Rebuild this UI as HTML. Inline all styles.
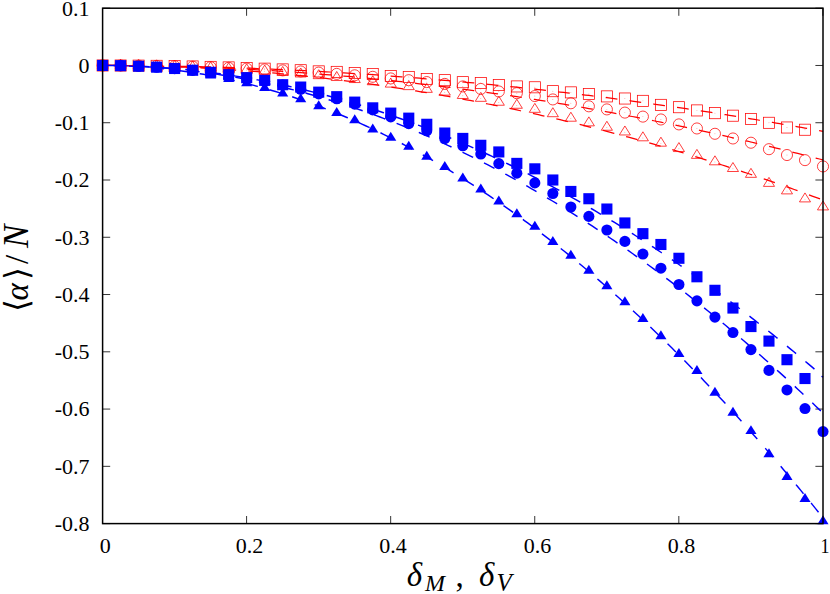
<!DOCTYPE html>
<html><head><meta charset="utf-8"><title>plot</title>
<style>
html,body{margin:0;padding:0;background:#fff;}
body{width:830px;height:594px;overflow:hidden;font-family:"Liberation Serif",serif;}
svg{display:block;}
.t{font-family:"Liberation Serif",serif;font-size:22px;fill:#000;}
.i{font-family:"Liberation Serif",serif;font-style:italic;fill:#000;}
.o{fill:none;stroke:#ff0000;stroke-width:0.75;}
.d{fill:#ff0000;fill-opacity:0.55;}
.k{stroke:#000;stroke-width:0.8;}
</style></head><body>
<svg width="830" height="594" viewBox="0 0 830 594">
<rect width="830" height="594" fill="#fff"/>

<g class="k">
<line x1="102.6" y1="8.20" x2="110.19999999999999" y2="8.20"/>
<line x1="823.0" y1="8.20" x2="815.4" y2="8.20"/>
<line x1="102.6" y1="65.47" x2="110.19999999999999" y2="65.47"/>
<line x1="823.0" y1="65.47" x2="815.4" y2="65.47"/>
<line x1="102.6" y1="122.73" x2="110.19999999999999" y2="122.73"/>
<line x1="823.0" y1="122.73" x2="815.4" y2="122.73"/>
<line x1="102.6" y1="180.00" x2="110.19999999999999" y2="180.00"/>
<line x1="823.0" y1="180.00" x2="815.4" y2="180.00"/>
<line x1="102.6" y1="237.27" x2="110.19999999999999" y2="237.27"/>
<line x1="823.0" y1="237.27" x2="815.4" y2="237.27"/>
<line x1="102.6" y1="294.53" x2="110.19999999999999" y2="294.53"/>
<line x1="823.0" y1="294.53" x2="815.4" y2="294.53"/>
<line x1="102.6" y1="351.80" x2="110.19999999999999" y2="351.80"/>
<line x1="823.0" y1="351.80" x2="815.4" y2="351.80"/>
<line x1="102.6" y1="409.07" x2="110.19999999999999" y2="409.07"/>
<line x1="823.0" y1="409.07" x2="815.4" y2="409.07"/>
<line x1="102.6" y1="466.33" x2="110.19999999999999" y2="466.33"/>
<line x1="823.0" y1="466.33" x2="815.4" y2="466.33"/>
<line x1="102.6" y1="523.60" x2="110.19999999999999" y2="523.60"/>
<line x1="823.0" y1="523.60" x2="815.4" y2="523.60"/>
<line x1="102.50" y1="523.6" x2="102.50" y2="516.0"/>
<line x1="102.50" y1="8.2" x2="102.50" y2="15.799999999999999"/>
<line x1="246.58" y1="523.6" x2="246.58" y2="516.0"/>
<line x1="246.58" y1="8.2" x2="246.58" y2="15.799999999999999"/>
<line x1="390.66" y1="523.6" x2="390.66" y2="516.0"/>
<line x1="390.66" y1="8.2" x2="390.66" y2="15.799999999999999"/>
<line x1="534.74" y1="523.6" x2="534.74" y2="516.0"/>
<line x1="534.74" y1="8.2" x2="534.74" y2="15.799999999999999"/>
<line x1="678.82" y1="523.6" x2="678.82" y2="516.0"/>
<line x1="678.82" y1="8.2" x2="678.82" y2="15.799999999999999"/>
<line x1="822.90" y1="523.6" x2="822.90" y2="516.0"/>
<line x1="822.90" y1="8.2" x2="822.90" y2="15.799999999999999"/>
</g>
<g id="ylabels">
<text class="t" x="89.5" y="15.50" text-anchor="end">0.1</text>
<text class="t" x="89.5" y="72.77" text-anchor="end">0</text>
<text class="t" x="89.5" y="130.03" text-anchor="end">-0.1</text>
<text class="t" x="89.5" y="187.30" text-anchor="end">-0.2</text>
<text class="t" x="89.5" y="244.57" text-anchor="end">-0.3</text>
<text class="t" x="89.5" y="301.83" text-anchor="end">-0.4</text>
<text class="t" x="89.5" y="359.10" text-anchor="end">-0.5</text>
<text class="t" x="89.5" y="416.37" text-anchor="end">-0.6</text>
<text class="t" x="89.5" y="473.63" text-anchor="end">-0.7</text>
<text class="t" x="89.5" y="530.90" text-anchor="end">-0.8</text>
</g>
<g id="xlabels">
<text class="t" x="105.3" y="552.60" text-anchor="middle">0</text>
<text class="t" x="249.5" y="552.60" text-anchor="middle">0.2</text>
<text class="t" x="393.1" y="552.60" text-anchor="middle">0.4</text>
<text class="t" x="537.4" y="552.60" text-anchor="middle">0.6</text>
<text class="t" x="681.5" y="552.60" text-anchor="middle">0.8</text>
<text class="t" x="820.5" y="552.60" textLength="9" lengthAdjust="spacingAndGlyphs">1</text>
</g>
<g id="xl" fill="#000">
<text class="i" x="406.67" y="586.21" font-size="33">δ</text>
<text class="i" x="424.99" y="590.65" font-size="24">M</text>
<text class="t" x="455.5" y="586.9" font-size="33" style="font-size:33px">,</text>
<text class="i" x="478.97" y="586.21" font-size="33">δ</text>
<text class="i" x="496.5" y="590.56" font-size="25">V</text>
</g>
<g id="yl" transform="translate(27.5,312) rotate(-90)" fill="#000">
<text x="0" y="0" font-size="33" style="font-family:'Liberation Serif','DejaVu Serif','DejaVu Sans',serif;">⟨</text>
<text class="i" x="11.5" y="0" font-size="33">α</text>
<text x="32" y="0" font-size="33" style="font-family:'Liberation Serif','DejaVu Serif','DejaVu Sans',serif;">⟩</text>
<text x="48" y="0" font-size="33" style="font-family:'Liberation Serif',serif;">/</text>
<text class="i" x="64" y="0" font-size="35">N</text>
</g>
<g id="red">
<path d="M102.60,65.47 L106.20,65.47 L109.80,65.47 L113.41,65.48 L117.01,65.49 L120.61,65.51 L124.21,65.53 L127.81,65.55 L131.42,65.57 L135.02,65.60 L138.62,65.63 L142.22,65.67 L145.82,65.70 L149.43,65.74 L153.03,65.79 L156.63,65.84 L160.23,65.89 L163.83,65.94 L167.44,66.00 L171.04,66.06 L174.64,66.13 L178.24,66.19 L181.84,66.26 L185.45,66.34 L189.05,66.42 L192.65,66.50 L196.25,66.58 L199.85,66.67 L203.46,66.76 L207.06,66.85 L210.66,66.95 L214.26,67.05 L217.86,67.15 L221.47,67.26 L225.07,67.37 L228.67,67.48 L232.27,67.60 L235.87,67.72 L239.48,67.84 L243.08,67.97 L246.68,68.10 L250.28,68.23 L253.88,68.37 L257.49,68.51 L261.09,68.65 L264.69,68.80 L268.29,68.95 L271.89,69.10 L275.50,69.26 L279.10,69.42 L282.70,69.58 L286.30,69.75 L289.90,69.92 L293.51,70.09 L297.11,70.27 L300.71,70.45 L304.31,70.63 L307.91,70.82 L311.52,71.01 L315.12,71.20 L318.72,71.39 L322.32,71.59 L325.92,71.80 L329.53,72.00 L333.13,72.21 L336.73,72.42 L340.33,72.64 L343.93,72.86 L347.54,73.08 L351.14,73.31 L354.74,73.53 L358.34,73.77 L361.94,74.00 L365.55,74.24 L369.15,74.48 L372.75,74.73 L376.35,74.98 L379.95,75.23 L383.56,75.48 L387.16,75.74 L390.76,76.00 L394.36,76.27 L397.96,76.54 L401.57,76.81 L405.17,77.08 L408.77,77.36 L412.37,77.64 L415.97,77.93 L419.58,78.22 L423.18,78.51 L426.78,78.80 L430.38,79.10 L433.98,79.40 L437.59,79.71 L441.19,80.01 L444.79,80.33 L448.39,80.64 L451.99,80.96 L455.60,81.28 L459.20,81.60 L462.80,81.93 L466.40,82.26 L470.00,82.60 L473.61,82.93 L477.21,83.27 L480.81,83.62 L484.41,83.97 L488.01,84.32 L491.62,84.67 L495.22,85.03 L498.82,85.39 L502.42,85.75 L506.02,86.12 L509.63,86.49 L513.23,86.86 L516.83,87.24 L520.43,87.62 L524.03,88.00 L527.64,88.39 L531.24,88.78 L534.84,89.18 L538.44,89.57 L542.04,89.97 L545.65,90.38 L549.25,90.78 L552.85,91.19 L556.45,91.61 L560.05,92.02 L563.66,92.44 L567.26,92.86 L570.86,93.29 L574.46,93.72 L578.06,94.15 L581.67,94.59 L585.27,95.03 L588.87,95.47 L592.47,95.92 L596.07,96.37 L599.68,96.82 L603.28,97.28 L606.88,97.74 L610.48,98.20 L614.08,98.67 L617.69,99.13 L621.29,99.61 L624.89,100.08 L628.49,100.56 L632.09,101.04 L635.70,101.53 L639.30,102.02 L642.90,102.51 L646.50,103.01 L650.10,103.51 L653.71,104.01 L657.31,104.51 L660.91,105.02 L664.51,105.53 L668.11,106.05 L671.72,106.57 L675.32,107.09 L678.92,107.61 L682.52,108.14 L686.12,108.68 L689.73,109.21 L693.33,109.75 L696.93,110.29 L700.53,110.84 L704.13,111.38 L707.74,111.94 L711.34,112.49 L714.94,113.05 L718.54,113.61 L722.14,114.17 L725.75,114.74 L729.35,115.31 L732.95,115.89 L736.55,116.47 L740.15,117.05 L743.76,117.63 L747.36,118.22 L750.96,118.81 L754.56,119.40 L758.16,120.00 L761.77,120.60 L765.37,121.21 L768.97,121.82 L772.57,122.43 L776.17,123.04 L779.78,123.66 L783.38,124.28 L786.98,124.90 L790.58,125.53 L794.18,126.16 L797.79,126.79 L801.39,127.43 L804.99,128.07 L808.59,128.72 L812.19,129.36 L815.80,130.01 L819.40,130.67 L823.00,131.32" fill="none" stroke="#ff0000" stroke-width="1.25" stroke-dasharray="11.8 12.20" stroke-dashoffset="23.55"/>
<rect x="97.05" y="59.92" width="11.10" height="11.10" class="o"/><circle cx="102.60" cy="65.47" r="0.45" class="d"/><rect x="115.06" y="59.96" width="11.10" height="11.10" class="o"/><circle cx="120.61" cy="65.51" r="0.45" class="d"/><rect x="133.07" y="60.07" width="11.10" height="11.10" class="o"/><circle cx="138.62" cy="65.62" r="0.45" class="d"/><rect x="151.08" y="60.27" width="11.10" height="11.10" class="o"/><circle cx="156.63" cy="65.82" r="0.45" class="d"/><rect x="169.09" y="60.55" width="11.10" height="11.10" class="o"/><circle cx="174.64" cy="66.10" r="0.45" class="d"/><rect x="187.10" y="60.90" width="11.10" height="11.10" class="o"/><circle cx="192.65" cy="66.45" r="0.45" class="d"/><rect x="205.11" y="61.33" width="11.10" height="11.10" class="o"/><circle cx="210.66" cy="66.88" r="0.45" class="d"/><rect x="223.12" y="61.85" width="11.10" height="11.10" class="o"/><circle cx="228.67" cy="67.40" r="0.45" class="d"/><rect x="241.13" y="62.44" width="11.10" height="11.10" class="o"/><circle cx="246.68" cy="67.99" r="0.45" class="d"/><rect x="259.14" y="63.11" width="11.10" height="11.10" class="o"/><circle cx="264.69" cy="68.66" r="0.45" class="d"/><rect x="277.15" y="63.85" width="11.10" height="11.10" class="o"/><circle cx="282.70" cy="69.40" r="0.45" class="d"/><rect x="295.16" y="64.68" width="11.10" height="11.10" class="o"/><circle cx="300.71" cy="70.23" r="0.45" class="d"/><rect x="313.17" y="65.82" width="11.10" height="11.10" class="o"/><circle cx="318.72" cy="71.37" r="0.45" class="d"/><rect x="331.18" y="66.33" width="11.10" height="11.10" class="o"/><circle cx="336.73" cy="71.88" r="0.45" class="d"/><rect x="349.19" y="67.53" width="11.10" height="11.10" class="o"/><circle cx="354.74" cy="73.08" r="0.45" class="d"/><rect x="367.20" y="68.51" width="11.10" height="11.10" class="o"/><circle cx="372.75" cy="74.06" r="0.45" class="d"/><rect x="385.21" y="70.51" width="11.10" height="11.10" class="o"/><circle cx="390.76" cy="76.06" r="0.45" class="d"/><rect x="403.22" y="71.37" width="11.10" height="11.10" class="o"/><circle cx="408.77" cy="76.92" r="0.45" class="d"/><rect x="421.23" y="73.43" width="11.10" height="11.10" class="o"/><circle cx="426.78" cy="78.98" r="0.45" class="d"/><rect x="439.24" y="74.63" width="11.10" height="11.10" class="o"/><circle cx="444.79" cy="80.18" r="0.45" class="d"/><rect x="457.25" y="76.64" width="11.10" height="11.10" class="o"/><circle cx="462.80" cy="82.19" r="0.45" class="d"/><rect x="475.26" y="77.50" width="11.10" height="11.10" class="o"/><circle cx="480.81" cy="83.05" r="0.45" class="d"/><rect x="493.27" y="79.50" width="11.10" height="11.10" class="o"/><circle cx="498.82" cy="85.05" r="0.45" class="d"/><rect x="511.28" y="80.88" width="11.10" height="11.10" class="o"/><circle cx="516.83" cy="86.43" r="0.45" class="d"/><rect x="529.29" y="81.74" width="11.10" height="11.10" class="o"/><circle cx="534.84" cy="87.29" r="0.45" class="d"/><rect x="547.30" y="85.63" width="11.10" height="11.10" class="o"/><circle cx="552.85" cy="91.18" r="0.45" class="d"/><rect x="565.31" y="86.83" width="11.10" height="11.10" class="o"/><circle cx="570.86" cy="92.38" r="0.45" class="d"/><rect x="583.32" y="88.44" width="11.10" height="11.10" class="o"/><circle cx="588.87" cy="93.99" r="0.45" class="d"/><rect x="601.33" y="90.84" width="11.10" height="11.10" class="o"/><circle cx="606.88" cy="96.39" r="0.45" class="d"/><rect x="619.34" y="92.96" width="11.10" height="11.10" class="o"/><circle cx="624.89" cy="98.51" r="0.45" class="d"/><rect x="637.35" y="95.31" width="11.10" height="11.10" class="o"/><circle cx="642.90" cy="100.86" r="0.45" class="d"/><rect x="655.36" y="99.32" width="11.10" height="11.10" class="o"/><circle cx="660.91" cy="104.87" r="0.45" class="d"/><rect x="673.37" y="101.66" width="11.10" height="11.10" class="o"/><circle cx="678.92" cy="107.21" r="0.45" class="d"/><rect x="691.38" y="104.87" width="11.10" height="11.10" class="o"/><circle cx="696.93" cy="110.42" r="0.45" class="d"/><rect x="709.39" y="107.62" width="11.10" height="11.10" class="o"/><circle cx="714.94" cy="113.17" r="0.45" class="d"/><rect x="727.40" y="110.14" width="11.10" height="11.10" class="o"/><circle cx="732.95" cy="115.69" r="0.45" class="d"/><rect x="745.41" y="113.52" width="11.10" height="11.10" class="o"/><circle cx="750.96" cy="119.07" r="0.45" class="d"/><rect x="763.42" y="117.24" width="11.10" height="11.10" class="o"/><circle cx="768.97" cy="122.79" r="0.45" class="d"/><rect x="781.43" y="121.94" width="11.10" height="11.10" class="o"/><circle cx="786.98" cy="127.49" r="0.45" class="d"/><rect x="799.44" y="124.17" width="11.10" height="11.10" class="o"/><circle cx="804.99" cy="129.72" r="0.45" class="d"/>
<path d="M102.60,65.47 L106.20,65.47 L109.80,65.48 L113.41,65.49 L117.01,65.50 L120.61,65.53 L124.21,65.55 L127.81,65.58 L131.42,65.62 L135.02,65.66 L138.62,65.70 L142.22,65.75 L145.82,65.81 L149.43,65.87 L153.03,65.93 L156.63,66.00 L160.23,66.07 L163.83,66.15 L167.44,66.23 L171.04,66.32 L174.64,66.41 L178.24,66.51 L181.84,66.61 L185.45,66.72 L189.05,66.83 L192.65,66.94 L196.25,67.06 L199.85,67.19 L203.46,67.32 L207.06,67.45 L210.66,67.59 L214.26,67.74 L217.86,67.89 L221.47,68.04 L225.07,68.20 L228.67,68.36 L232.27,68.53 L235.87,68.70 L239.48,68.88 L243.08,69.06 L246.68,69.25 L250.28,69.44 L253.88,69.63 L257.49,69.83 L261.09,70.04 L264.69,70.25 L268.29,70.47 L271.89,70.68 L275.50,70.91 L279.10,71.14 L282.70,71.37 L286.30,71.61 L289.90,71.85 L293.51,72.10 L297.11,72.35 L300.71,72.61 L304.31,72.87 L307.91,73.14 L311.52,73.41 L315.12,73.69 L318.72,73.97 L322.32,74.26 L325.92,74.55 L329.53,74.84 L333.13,75.14 L336.73,75.45 L340.33,75.76 L343.93,76.07 L347.54,76.39 L351.14,76.71 L354.74,77.04 L358.34,77.37 L361.94,77.71 L365.55,78.06 L369.15,78.40 L372.75,78.75 L376.35,79.11 L379.95,79.47 L383.56,79.84 L387.16,80.21 L390.76,80.59 L394.36,80.97 L397.96,81.35 L401.57,81.74 L405.17,82.13 L408.77,82.53 L412.37,82.94 L415.97,83.35 L419.58,83.76 L423.18,84.18 L426.78,84.60 L430.38,85.03 L433.98,85.46 L437.59,85.90 L441.19,86.34 L444.79,86.79 L448.39,87.24 L451.99,87.69 L455.60,88.15 L459.20,88.62 L462.80,89.09 L466.40,89.56 L470.00,90.04 L473.61,90.53 L477.21,91.02 L480.81,91.51 L484.41,92.01 L488.01,92.51 L491.62,93.02 L495.22,93.53 L498.82,94.05 L502.42,94.57 L506.02,95.10 L509.63,95.63 L513.23,96.17 L516.83,96.71 L520.43,97.25 L524.03,97.80 L527.64,98.36 L531.24,98.92 L534.84,99.48 L538.44,100.05 L542.04,100.63 L545.65,101.21 L549.25,101.79 L552.85,102.38 L556.45,102.97 L560.05,103.57 L563.66,104.17 L567.26,104.78 L570.86,105.39 L574.46,106.01 L578.06,106.63 L581.67,107.25 L585.27,107.88 L588.87,108.52 L592.47,109.16 L596.07,109.80 L599.68,110.45 L603.28,111.11 L606.88,111.77 L610.48,112.43 L614.08,113.10 L617.69,113.77 L621.29,114.45 L624.89,115.13 L628.49,115.82 L632.09,116.51 L635.70,117.21 L639.30,117.91 L642.90,118.62 L646.50,119.33 L650.10,120.04 L653.71,120.76 L657.31,121.49 L660.91,122.22 L664.51,122.95 L668.11,123.69 L671.72,124.44 L675.32,125.19 L678.92,125.94 L682.52,126.70 L686.12,127.46 L689.73,128.23 L693.33,129.00 L696.93,129.78 L700.53,130.56 L704.13,131.35 L707.74,132.14 L711.34,132.93 L714.94,133.74 L718.54,134.54 L722.14,135.35 L725.75,136.17 L729.35,136.99 L732.95,137.81 L736.55,138.64 L740.15,139.47 L743.76,140.31 L747.36,141.16 L750.96,142.00 L754.56,142.86 L758.16,143.71 L761.77,144.58 L765.37,145.44 L768.97,146.31 L772.57,147.19 L776.17,148.07 L779.78,148.96 L783.38,149.85 L786.98,150.74 L790.58,151.64 L794.18,152.55 L797.79,153.46 L801.39,154.37 L804.99,155.29 L808.59,156.21 L812.19,157.14 L815.80,158.08 L819.40,159.01 L823.00,159.96" fill="none" stroke="#ff0000" stroke-width="1.25" stroke-dasharray="11.8 12.20" stroke-dashoffset="23.01"/>
<circle cx="102.60" cy="65.47" r="5.55" class="o"/><circle cx="102.60" cy="65.47" r="0.45" class="d"/><circle cx="120.61" cy="65.51" r="5.55" class="o"/><circle cx="120.61" cy="65.51" r="0.45" class="d"/><circle cx="138.62" cy="65.66" r="5.55" class="o"/><circle cx="138.62" cy="65.66" r="0.45" class="d"/><circle cx="156.63" cy="65.90" r="5.55" class="o"/><circle cx="156.63" cy="65.90" r="0.45" class="d"/><circle cx="174.64" cy="66.24" r="5.55" class="o"/><circle cx="174.64" cy="66.24" r="0.45" class="d"/><circle cx="192.65" cy="66.68" r="5.55" class="o"/><circle cx="192.65" cy="66.68" r="0.45" class="d"/><circle cx="210.66" cy="67.22" r="5.55" class="o"/><circle cx="210.66" cy="67.22" r="0.45" class="d"/><circle cx="228.67" cy="67.86" r="5.55" class="o"/><circle cx="228.67" cy="67.86" r="0.45" class="d"/><circle cx="246.68" cy="68.60" r="5.55" class="o"/><circle cx="246.68" cy="68.60" r="0.45" class="d"/><circle cx="264.69" cy="69.44" r="5.55" class="o"/><circle cx="264.69" cy="69.44" r="0.45" class="d"/><circle cx="282.70" cy="70.39" r="5.55" class="o"/><circle cx="282.70" cy="70.39" r="0.45" class="d"/><circle cx="300.71" cy="71.45" r="5.55" class="o"/><circle cx="300.71" cy="71.45" r="0.45" class="d"/><circle cx="318.72" cy="72.61" r="5.55" class="o"/><circle cx="318.72" cy="72.61" r="0.45" class="d"/><circle cx="336.73" cy="73.89" r="5.55" class="o"/><circle cx="336.73" cy="73.89" r="0.45" class="d"/><circle cx="354.74" cy="75.29" r="5.55" class="o"/><circle cx="354.74" cy="75.29" r="0.45" class="d"/><circle cx="372.75" cy="76.80" r="5.55" class="o"/><circle cx="372.75" cy="76.80" r="0.45" class="d"/><circle cx="390.76" cy="78.44" r="5.55" class="o"/><circle cx="390.76" cy="78.44" r="0.45" class="d"/><circle cx="408.77" cy="80.20" r="5.55" class="o"/><circle cx="408.77" cy="80.20" r="0.45" class="d"/><circle cx="426.78" cy="82.08" r="5.55" class="o"/><circle cx="426.78" cy="82.08" r="0.45" class="d"/><circle cx="444.79" cy="83.91" r="5.55" class="o"/><circle cx="444.79" cy="83.91" r="0.45" class="d"/><circle cx="462.80" cy="86.43" r="5.55" class="o"/><circle cx="462.80" cy="86.43" r="0.45" class="d"/><circle cx="480.81" cy="88.95" r="5.55" class="o"/><circle cx="480.81" cy="88.95" r="0.45" class="d"/><circle cx="498.82" cy="91.47" r="5.55" class="o"/><circle cx="498.82" cy="91.47" r="0.45" class="d"/><circle cx="516.83" cy="93.18" r="5.55" class="o"/><circle cx="516.83" cy="93.18" r="0.45" class="d"/><circle cx="534.84" cy="96.05" r="5.55" class="o"/><circle cx="534.84" cy="96.05" r="0.45" class="d"/><circle cx="552.85" cy="99.43" r="5.55" class="o"/><circle cx="552.85" cy="99.43" r="0.45" class="d"/><circle cx="570.86" cy="103.26" r="5.55" class="o"/><circle cx="570.86" cy="103.26" r="0.45" class="d"/><circle cx="588.87" cy="106.30" r="5.55" class="o"/><circle cx="588.87" cy="106.30" r="0.45" class="d"/><circle cx="606.88" cy="109.39" r="5.55" class="o"/><circle cx="606.88" cy="109.39" r="0.45" class="d"/><circle cx="624.89" cy="112.60" r="5.55" class="o"/><circle cx="624.89" cy="112.60" r="0.45" class="d"/><circle cx="642.90" cy="116.61" r="5.55" class="o"/><circle cx="642.90" cy="116.61" r="0.45" class="d"/><circle cx="660.91" cy="119.47" r="5.55" class="o"/><circle cx="660.91" cy="119.47" r="0.45" class="d"/><circle cx="678.92" cy="124.39" r="5.55" class="o"/><circle cx="678.92" cy="124.39" r="0.45" class="d"/><circle cx="696.93" cy="128.46" r="5.55" class="o"/><circle cx="696.93" cy="128.46" r="0.45" class="d"/><circle cx="714.94" cy="133.79" r="5.55" class="o"/><circle cx="714.94" cy="133.79" r="0.45" class="d"/><circle cx="732.95" cy="138.48" r="5.55" class="o"/><circle cx="732.95" cy="138.48" r="0.45" class="d"/><circle cx="750.96" cy="142.72" r="5.55" class="o"/><circle cx="750.96" cy="142.72" r="0.45" class="d"/><circle cx="768.97" cy="149.19" r="5.55" class="o"/><circle cx="768.97" cy="149.19" r="0.45" class="d"/><circle cx="786.98" cy="155.03" r="5.55" class="o"/><circle cx="786.98" cy="155.03" r="0.45" class="d"/><circle cx="804.99" cy="160.13" r="5.55" class="o"/><circle cx="804.99" cy="160.13" r="0.45" class="d"/><circle cx="823.00" cy="166.43" r="5.55" class="o"/><circle cx="823.00" cy="166.43" r="0.45" class="d"/>
<path d="M102.60,65.47 L106.20,65.47 L109.80,65.48 L113.41,65.50 L117.01,65.52 L120.61,65.55 L124.21,65.59 L127.81,65.63 L131.42,65.68 L135.02,65.74 L138.62,65.80 L142.22,65.87 L145.82,65.95 L149.43,66.04 L153.03,66.13 L156.63,66.22 L160.23,66.33 L163.83,66.44 L167.44,66.56 L171.04,66.68 L174.64,66.81 L178.24,66.95 L181.84,67.10 L185.45,67.25 L189.05,67.40 L192.65,67.57 L196.25,67.74 L199.85,67.92 L203.46,68.10 L207.06,68.30 L210.66,68.49 L214.26,68.70 L217.86,68.91 L221.47,69.13 L225.07,69.36 L228.67,69.59 L232.27,69.83 L235.87,70.07 L239.48,70.32 L243.08,70.58 L246.68,70.85 L250.28,71.12 L253.88,71.40 L257.49,71.69 L261.09,71.98 L264.69,72.28 L268.29,72.59 L271.89,72.90 L275.50,73.22 L279.10,73.54 L282.70,73.88 L286.30,74.22 L289.90,74.56 L293.51,74.92 L297.11,75.28 L300.71,75.64 L304.31,76.02 L307.91,76.40 L311.52,76.78 L315.12,77.18 L318.72,77.58 L322.32,77.99 L325.92,78.40 L329.53,78.82 L333.13,79.25 L336.73,79.68 L340.33,80.12 L343.93,80.57 L347.54,81.02 L351.14,81.48 L354.74,81.95 L358.34,82.43 L361.94,82.91 L365.55,83.40 L369.15,83.89 L372.75,84.39 L376.35,84.90 L379.95,85.41 L383.56,85.94 L387.16,86.46 L390.76,87.00 L394.36,87.54 L397.96,88.09 L401.57,88.64 L405.17,89.21 L408.77,89.77 L412.37,90.35 L415.97,90.93 L419.58,91.52 L423.18,92.12 L426.78,92.72 L430.38,93.33 L433.98,93.94 L437.59,94.57 L441.19,95.19 L444.79,95.83 L448.39,96.47 L451.99,97.12 L455.60,97.78 L459.20,98.44 L462.80,99.11 L466.40,99.79 L470.00,100.47 L473.61,101.16 L477.21,101.86 L480.81,102.56 L484.41,103.27 L488.01,103.99 L491.62,104.71 L495.22,105.44 L498.82,106.18 L502.42,106.92 L506.02,107.67 L509.63,108.43 L513.23,109.19 L516.83,109.96 L520.43,110.74 L524.03,111.52 L527.64,112.31 L531.24,113.11 L534.84,113.91 L538.44,114.73 L542.04,115.54 L545.65,116.37 L549.25,117.20 L552.85,118.04 L556.45,118.88 L560.05,119.73 L563.66,120.59 L567.26,121.45 L570.86,122.33 L574.46,123.20 L578.06,124.09 L581.67,124.98 L585.27,125.88 L588.87,126.78 L592.47,127.69 L596.07,128.61 L599.68,129.54 L603.28,130.47 L606.88,131.41 L610.48,132.35 L614.08,133.31 L617.69,134.27 L621.29,135.23 L624.89,136.20 L628.49,137.18 L632.09,138.17 L635.70,139.16 L639.30,140.16 L642.90,141.17 L646.50,142.18 L650.10,143.20 L653.71,144.22 L657.31,145.26 L660.91,146.30 L664.51,147.34 L668.11,148.40 L671.72,149.46 L675.32,150.52 L678.92,151.60 L682.52,152.68 L686.12,153.76 L689.73,154.86 L693.33,155.96 L696.93,157.06 L700.53,158.18 L704.13,159.30 L707.74,160.42 L711.34,161.56 L714.94,162.70 L718.54,163.85 L722.14,165.00 L725.75,166.16 L729.35,167.33 L732.95,168.50 L736.55,169.68 L740.15,170.87 L743.76,172.06 L747.36,173.27 L750.96,174.47 L754.56,175.69 L758.16,176.91 L761.77,178.14 L765.37,179.37 L768.97,180.61 L772.57,181.86 L776.17,183.12 L779.78,184.38 L783.38,185.65 L786.98,186.92 L790.58,188.20 L794.18,189.49 L797.79,190.79 L801.39,192.09 L804.99,193.40 L808.59,194.71 L812.19,196.04 L815.80,197.37 L819.40,198.70 L823.00,200.04" fill="none" stroke="#ff0000" stroke-width="1.25" stroke-dasharray="11.8 12.20" stroke-dashoffset="22.13"/>
<polygon points="102.60,59.25 97.05,68.24 108.15,68.24" class="o"/><circle cx="102.60" cy="65.47" r="0.45" class="d"/><polygon points="120.61,59.32 115.06,68.31 126.16,68.31" class="o"/><circle cx="120.61" cy="65.54" r="0.45" class="d"/><polygon points="138.62,59.53 133.07,68.53 144.17,68.53" class="o"/><circle cx="138.62" cy="65.75" r="0.45" class="d"/><polygon points="156.63,59.89 151.08,68.88 162.18,68.88" class="o"/><circle cx="156.63" cy="66.11" r="0.45" class="d"/><polygon points="174.64,60.39 169.09,69.38 180.19,69.38" class="o"/><circle cx="174.64" cy="66.60" r="0.45" class="d"/><polygon points="192.65,61.03 187.10,70.02 198.20,70.02" class="o"/><circle cx="192.65" cy="67.25" r="0.45" class="d"/><polygon points="210.66,61.82 205.11,70.81 216.21,70.81" class="o"/><circle cx="210.66" cy="68.03" r="0.45" class="d"/><polygon points="228.67,62.75 223.12,71.74 234.22,71.74" class="o"/><circle cx="228.67" cy="68.97" r="0.45" class="d"/><polygon points="246.68,63.83 241.13,72.82 252.23,72.82" class="o"/><circle cx="246.68" cy="70.05" r="0.45" class="d"/><polygon points="264.69,65.06 259.14,74.05 270.24,74.05" class="o"/><circle cx="264.69" cy="71.28" r="0.45" class="d"/><polygon points="282.70,66.45 277.15,75.44 288.25,75.44" class="o"/><circle cx="282.70" cy="72.66" r="0.45" class="d"/><polygon points="300.71,67.99 295.16,76.98 306.26,76.98" class="o"/><circle cx="300.71" cy="74.20" r="0.45" class="d"/><polygon points="318.72,69.68 313.17,78.67 324.27,78.67" class="o"/><circle cx="318.72" cy="75.90" r="0.45" class="d"/><polygon points="336.73,71.54 331.18,80.53 342.28,80.53" class="o"/><circle cx="336.73" cy="77.76" r="0.45" class="d"/><polygon points="354.74,73.56 349.19,82.55 360.29,82.55" class="o"/><circle cx="354.74" cy="79.78" r="0.45" class="d"/><polygon points="372.75,75.75 367.20,84.74 378.30,84.74" class="o"/><circle cx="372.75" cy="81.97" r="0.45" class="d"/><polygon points="390.76,78.11 385.21,87.10 396.31,87.10" class="o"/><circle cx="390.76" cy="84.33" r="0.45" class="d"/><polygon points="408.77,80.65 403.22,89.64 414.32,89.64" class="o"/><circle cx="408.77" cy="86.86" r="0.45" class="d"/><polygon points="426.78,83.36 421.23,92.35 432.33,92.35" class="o"/><circle cx="426.78" cy="89.58" r="0.45" class="d"/><polygon points="444.79,86.11 439.24,95.10 450.34,95.10" class="o"/><circle cx="444.79" cy="92.32" r="0.45" class="d"/><polygon points="462.80,89.49 457.25,98.48 468.35,98.48" class="o"/><circle cx="462.80" cy="95.70" r="0.45" class="d"/><polygon points="480.81,92.35 475.26,101.34 486.36,101.34" class="o"/><circle cx="480.81" cy="98.57" r="0.45" class="d"/><polygon points="498.82,96.24 493.27,105.24 504.37,105.24" class="o"/><circle cx="498.82" cy="102.46" r="0.45" class="d"/><polygon points="516.83,99.28 511.28,108.27 522.38,108.27" class="o"/><circle cx="516.83" cy="105.50" r="0.45" class="d"/><polygon points="534.84,103.35 529.29,112.34 540.39,112.34" class="o"/><circle cx="534.84" cy="109.56" r="0.45" class="d"/><polygon points="552.85,107.70 547.30,116.69 558.40,116.69" class="o"/><circle cx="552.85" cy="113.91" r="0.45" class="d"/><polygon points="570.86,112.22 565.31,121.21 576.41,121.21" class="o"/><circle cx="570.86" cy="118.44" r="0.45" class="d"/><polygon points="588.87,116.86 583.32,125.85 594.42,125.85" class="o"/><circle cx="588.87" cy="123.08" r="0.45" class="d"/><polygon points="606.88,121.27 601.33,130.26 612.43,130.26" class="o"/><circle cx="606.88" cy="127.49" r="0.45" class="d"/><polygon points="624.89,125.97 619.34,134.96 630.44,134.96" class="o"/><circle cx="624.89" cy="132.18" r="0.45" class="d"/><polygon points="642.90,131.81 637.35,140.80 648.45,140.80" class="o"/><circle cx="642.90" cy="138.02" r="0.45" class="d"/><polygon points="660.91,137.19 655.36,146.18 666.46,146.18" class="o"/><circle cx="660.91" cy="143.41" r="0.45" class="d"/><polygon points="678.92,142.57 673.37,151.56 684.47,151.56" class="o"/><circle cx="678.92" cy="148.79" r="0.45" class="d"/><polygon points="696.93,149.39 691.38,158.38 702.48,158.38" class="o"/><circle cx="696.93" cy="155.60" r="0.45" class="d"/><polygon points="714.94,155.82 709.39,164.81 720.49,164.81" class="o"/><circle cx="714.94" cy="162.04" r="0.45" class="d"/><polygon points="732.95,162.51 727.40,171.50 738.50,171.50" class="o"/><circle cx="732.95" cy="168.73" r="0.45" class="d"/><polygon points="750.96,168.34 745.41,177.33 756.51,177.33" class="o"/><circle cx="750.96" cy="174.56" r="0.45" class="d"/><polygon points="768.97,177.39 763.42,186.38 774.52,186.38" class="o"/><circle cx="768.97" cy="183.61" r="0.45" class="d"/><polygon points="786.98,184.89 781.43,193.88 792.53,193.88" class="o"/><circle cx="786.98" cy="191.11" r="0.45" class="d"/><polygon points="804.99,192.91 799.44,201.90 810.54,201.90" class="o"/><circle cx="804.99" cy="199.13" r="0.45" class="d"/><polygon points="823.00,200.93 817.45,209.92 828.55,209.92" class="o"/><circle cx="823.00" cy="207.14" r="0.45" class="d"/>
</g>
<g id="blue">
<path d="M102.60,65.47 L106.20,65.48 L109.80,65.51 L113.41,65.57 L117.01,65.65 L120.61,65.75 L124.21,65.87 L127.81,66.02 L131.42,66.19 L135.02,66.38 L138.62,66.60 L142.22,66.84 L145.82,67.10 L149.43,67.38 L153.03,67.68 L156.63,68.01 L160.23,68.36 L163.83,68.74 L167.44,69.13 L171.04,69.55 L174.64,69.99 L178.24,70.45 L181.84,70.94 L185.45,71.45 L189.05,71.98 L192.65,72.54 L196.25,73.11 L199.85,73.71 L203.46,74.33 L207.06,74.98 L210.66,75.65 L214.26,76.34 L217.86,77.05 L221.47,77.78 L225.07,78.54 L228.67,79.32 L232.27,80.12 L235.87,80.95 L239.48,81.80 L243.08,82.67 L246.68,83.56 L250.28,84.48 L253.88,85.42 L257.49,86.38 L261.09,87.36 L264.69,88.37 L268.29,89.40 L271.89,90.45 L275.50,91.53 L279.10,92.62 L282.70,93.74 L286.30,94.88 L289.90,96.05 L293.51,97.24 L297.11,98.45 L300.71,99.68 L304.31,100.94 L307.91,102.21 L311.52,103.51 L315.12,104.84 L318.72,106.18 L322.32,107.55 L325.92,108.94 L329.53,110.36 L333.13,111.79 L336.73,113.25 L340.33,114.73 L343.93,116.24 L347.54,117.76 L351.14,119.31 L354.74,120.89 L358.34,122.48 L361.94,124.10 L365.55,125.74 L369.15,127.40 L372.75,129.09 L376.35,130.79 L379.95,132.52 L383.56,134.28 L387.16,136.05 L390.76,137.85 L394.36,139.67 L397.96,141.52 L401.57,143.38 L405.17,145.27 L408.77,147.18 L412.37,149.12 L415.97,151.07 L419.58,153.05 L423.18,155.05 L426.78,157.08 L430.38,159.13 L433.98,161.20 L437.59,163.29 L441.19,165.40 L444.79,167.54 L448.39,169.70 L451.99,171.88 L455.60,174.09 L459.20,176.32 L462.80,178.57 L466.40,180.84 L470.00,183.14 L473.61,185.46 L477.21,187.80 L480.81,190.16 L484.41,192.55 L488.01,194.96 L491.62,197.39 L495.22,199.84 L498.82,202.32 L502.42,204.82 L506.02,207.34 L509.63,209.89 L513.23,212.45 L516.83,215.04 L520.43,217.66 L524.03,220.29 L527.64,222.95 L531.24,225.63 L534.84,228.33 L538.44,231.06 L542.04,233.81 L545.65,236.58 L549.25,239.37 L552.85,242.19 L556.45,245.03 L560.05,247.89 L563.66,250.77 L567.26,253.68 L570.86,256.61 L574.46,259.56 L578.06,262.54 L581.67,265.53 L585.27,268.55 L588.87,271.59 L592.47,274.66 L596.07,277.75 L599.68,280.86 L603.28,283.99 L606.88,287.15 L610.48,290.32 L614.08,293.52 L617.69,296.75 L621.29,299.99 L624.89,303.26 L628.49,306.55 L632.09,309.87 L635.70,313.20 L639.30,316.56 L642.90,319.95 L646.50,323.35 L650.10,326.78 L653.71,330.23 L657.31,333.70 L660.91,337.19 L664.51,340.71 L668.11,344.25 L671.72,347.81 L675.32,351.40 L678.92,355.01 L682.52,358.64 L686.12,362.29 L689.73,365.97 L693.33,369.66 L696.93,373.39 L700.53,377.13 L704.13,380.90 L707.74,384.68 L711.34,388.50 L714.94,392.33 L718.54,396.19 L722.14,400.07 L725.75,403.97 L729.35,407.89 L732.95,411.84 L736.55,415.81 L740.15,419.80 L743.76,423.82 L747.36,427.86 L750.96,431.92 L754.56,436.00 L758.16,440.10 L761.77,444.23 L765.37,448.38 L768.97,452.56 L772.57,456.75 L776.17,460.97 L779.78,465.21 L783.38,469.48 L786.98,473.76 L790.58,478.07 L794.18,482.40 L797.79,486.76 L801.39,491.14 L804.99,495.54 L808.59,499.96 L812.19,504.40 L815.80,508.87 L819.40,513.36 L823.00,517.87" fill="none" stroke="#0000ff" stroke-width="1.45" stroke-dasharray="11.8 12.05" stroke-dashoffset="21.66"/>
<polygon points="102.60,59.25 97.05,68.24 108.15,68.24" fill="#0000ff"/><polygon points="120.61,59.53 115.06,68.52 126.16,68.52" fill="#0000ff"/><polygon points="138.62,60.38 133.07,69.37 144.17,69.37" fill="#0000ff"/><polygon points="156.63,61.79 151.08,70.78 162.18,70.78" fill="#0000ff"/><polygon points="174.64,63.76 169.09,72.75 180.19,72.75" fill="#0000ff"/><polygon points="192.65,66.29 187.10,75.28 198.20,75.28" fill="#0000ff"/><polygon points="210.66,69.39 205.11,78.38 216.21,78.38" fill="#0000ff"/><polygon points="228.67,73.05 223.12,82.04 234.22,82.04" fill="#0000ff"/><polygon points="246.68,77.28 241.13,86.27 252.23,86.27" fill="#0000ff"/><polygon points="264.69,82.07 259.14,91.06 270.24,91.06" fill="#0000ff"/><polygon points="282.70,87.42 277.15,96.41 288.25,96.41" fill="#0000ff"/><polygon points="300.71,93.33 295.16,102.32 306.26,102.32" fill="#0000ff"/><polygon points="318.72,100.25 313.17,109.24 324.27,109.24" fill="#0000ff"/><polygon points="336.73,107.07 331.18,116.06 342.28,116.06" fill="#0000ff"/><polygon points="354.74,114.23 349.19,123.22 360.29,123.22" fill="#0000ff"/><polygon points="372.75,123.39 367.20,132.38 378.30,132.38" fill="#0000ff"/><polygon points="390.76,131.69 385.21,140.68 396.31,140.68" fill="#0000ff"/><polygon points="408.77,140.68 403.22,149.67 414.32,149.67" fill="#0000ff"/><polygon points="426.78,150.65 421.23,159.64 432.33,159.64" fill="#0000ff"/><polygon points="444.79,160.96 439.24,169.95 450.34,169.95" fill="#0000ff"/><polygon points="462.80,172.41 457.25,181.40 468.35,181.40" fill="#0000ff"/><polygon points="480.81,183.47 475.26,192.46 486.36,192.46" fill="#0000ff"/><polygon points="498.82,195.59 493.27,204.58 504.37,204.58" fill="#0000ff"/><polygon points="516.83,208.27 511.28,217.26 522.38,217.26" fill="#0000ff"/><polygon points="534.84,220.74 529.29,229.73 540.39,229.73" fill="#0000ff"/><polygon points="552.85,236.09 547.30,245.08 558.40,245.08" fill="#0000ff"/><polygon points="570.86,249.70 565.31,258.69 576.41,258.69" fill="#0000ff"/><polygon points="588.87,264.64 583.32,273.63 594.42,273.63" fill="#0000ff"/><polygon points="606.88,280.16 601.33,289.15 612.43,289.15" fill="#0000ff"/><polygon points="624.89,296.25 619.34,305.24 630.44,305.24" fill="#0000ff"/><polygon points="642.90,312.93 637.35,321.92 648.45,321.92" fill="#0000ff"/><polygon points="660.91,330.19 655.36,339.18 666.46,339.18" fill="#0000ff"/><polygon points="678.92,348.05 673.37,357.04 684.47,357.04" fill="#0000ff"/><polygon points="696.93,365.05 691.38,374.05 702.48,374.05" fill="#0000ff"/><polygon points="714.94,386.82 709.39,395.81 720.49,395.81" fill="#0000ff"/><polygon points="732.95,406.69 727.40,415.68 738.50,415.68" fill="#0000ff"/><polygon points="750.96,425.13 745.41,434.12 756.51,434.12" fill="#0000ff"/><polygon points="768.97,448.32 763.42,457.31 774.52,457.31" fill="#0000ff"/><polygon points="786.98,470.94 781.43,479.93 792.53,479.93" fill="#0000ff"/><polygon points="804.99,492.99 799.44,501.98 810.54,501.98" fill="#0000ff"/><polygon points="823.00,515.27 817.45,524.26 828.55,524.26" fill="#0000ff"/>
<path d="M102.60,65.47 L106.20,65.48 L109.80,65.50 L113.41,65.54 L117.01,65.61 L120.61,65.68 L124.21,65.78 L127.81,65.89 L131.42,66.02 L135.02,66.17 L138.62,66.34 L142.22,66.52 L145.82,66.72 L149.43,66.94 L153.03,67.17 L156.63,67.42 L160.23,67.69 L163.83,67.98 L167.44,68.28 L171.04,68.60 L174.64,68.94 L178.24,69.30 L181.84,69.67 L185.45,70.06 L189.05,70.47 L192.65,70.90 L196.25,71.34 L199.85,71.80 L203.46,72.28 L207.06,72.78 L210.66,73.29 L214.26,73.82 L217.86,74.37 L221.47,74.93 L225.07,75.51 L228.67,76.11 L232.27,76.73 L235.87,77.36 L239.48,78.02 L243.08,78.68 L246.68,79.37 L250.28,80.07 L253.88,80.80 L257.49,81.53 L261.09,82.29 L264.69,83.06 L268.29,83.86 L271.89,84.66 L275.50,85.49 L279.10,86.33 L282.70,87.19 L286.30,88.07 L289.90,88.97 L293.51,89.88 L297.11,90.81 L300.71,91.75 L304.31,92.72 L307.91,93.70 L311.52,94.70 L315.12,95.72 L318.72,96.75 L322.32,97.80 L325.92,98.87 L329.53,99.96 L333.13,101.06 L336.73,102.18 L340.33,103.32 L343.93,104.48 L347.54,105.65 L351.14,106.84 L354.74,108.05 L358.34,109.27 L361.94,110.52 L365.55,111.78 L369.15,113.05 L372.75,114.35 L376.35,115.66 L379.95,116.99 L383.56,118.34 L387.16,119.70 L390.76,121.08 L394.36,122.48 L397.96,123.90 L401.57,125.33 L405.17,126.78 L408.77,128.25 L412.37,129.74 L415.97,131.24 L419.58,132.76 L423.18,134.30 L426.78,135.86 L430.38,137.43 L433.98,139.02 L437.59,140.63 L441.19,142.25 L444.79,143.90 L448.39,145.56 L451.99,147.23 L455.60,148.93 L459.20,150.64 L462.80,152.37 L466.40,154.12 L470.00,155.88 L473.61,157.66 L477.21,159.46 L480.81,161.28 L484.41,163.11 L488.01,164.96 L491.62,166.83 L495.22,168.72 L498.82,170.62 L502.42,172.54 L506.02,174.48 L509.63,176.43 L513.23,178.40 L516.83,180.39 L520.43,182.40 L524.03,184.43 L527.64,186.47 L531.24,188.53 L534.84,190.61 L538.44,192.70 L542.04,194.81 L545.65,196.94 L549.25,199.09 L552.85,201.25 L556.45,203.43 L560.05,205.63 L563.66,207.85 L567.26,210.08 L570.86,212.33 L574.46,214.60 L578.06,216.89 L581.67,219.19 L585.27,221.51 L588.87,223.85 L592.47,226.20 L596.07,228.57 L599.68,230.96 L603.28,233.37 L606.88,235.79 L610.48,238.24 L614.08,240.70 L617.69,243.17 L621.29,245.67 L624.89,248.18 L628.49,250.71 L632.09,253.25 L635.70,255.82 L639.30,258.40 L642.90,261.00 L646.50,263.61 L650.10,266.25 L653.71,268.90 L657.31,271.56 L660.91,274.25 L664.51,276.95 L668.11,279.67 L671.72,282.41 L675.32,285.16 L678.92,287.94 L682.52,290.73 L686.12,293.53 L689.73,296.36 L693.33,299.20 L696.93,302.06 L700.53,304.93 L704.13,307.83 L707.74,310.74 L711.34,313.67 L714.94,316.61 L718.54,319.58 L722.14,322.56 L725.75,325.56 L729.35,328.57 L732.95,331.60 L736.55,334.65 L740.15,337.72 L743.76,340.81 L747.36,343.91 L750.96,347.03 L754.56,350.17 L758.16,353.32 L761.77,356.49 L765.37,359.68 L768.97,362.89 L772.57,366.11 L776.17,369.35 L779.78,372.61 L783.38,375.89 L786.98,379.18 L790.58,382.49 L794.18,385.82 L797.79,389.17 L801.39,392.53 L804.99,395.91 L808.59,399.31 L812.19,402.73 L815.80,406.16 L819.40,409.61 L823.00,413.08" fill="none" stroke="#0000ff" stroke-width="1.45" stroke-dasharray="11.8 12.20" stroke-dashoffset="10.58"/>
<circle cx="102.60" cy="65.47" r="5.55" fill="#0000ff"/><circle cx="120.61" cy="65.66" r="5.55" fill="#0000ff"/><circle cx="138.62" cy="66.25" r="5.55" fill="#0000ff"/><circle cx="156.63" cy="67.24" r="5.55" fill="#0000ff"/><circle cx="174.64" cy="68.62" r="5.55" fill="#0000ff"/><circle cx="192.65" cy="70.39" r="5.55" fill="#0000ff"/><circle cx="210.66" cy="72.55" r="5.55" fill="#0000ff"/><circle cx="228.67" cy="75.11" r="5.55" fill="#0000ff"/><circle cx="246.68" cy="78.07" r="5.55" fill="#0000ff"/><circle cx="264.69" cy="81.42" r="5.55" fill="#0000ff"/><circle cx="282.70" cy="85.16" r="5.55" fill="#0000ff"/><circle cx="300.71" cy="89.31" r="5.55" fill="#0000ff"/><circle cx="318.72" cy="93.85" r="5.55" fill="#0000ff"/><circle cx="336.73" cy="98.79" r="5.55" fill="#0000ff"/><circle cx="354.74" cy="104.14" r="5.55" fill="#0000ff"/><circle cx="372.75" cy="109.89" r="5.55" fill="#0000ff"/><circle cx="390.76" cy="116.89" r="5.55" fill="#0000ff"/><circle cx="408.77" cy="123.59" r="5.55" fill="#0000ff"/><circle cx="426.78" cy="130.75" r="5.55" fill="#0000ff"/><circle cx="444.79" cy="138.60" r="5.55" fill="#0000ff"/><circle cx="462.80" cy="145.81" r="5.55" fill="#0000ff"/><circle cx="480.81" cy="154.00" r="5.55" fill="#0000ff"/><circle cx="498.82" cy="163.62" r="5.55" fill="#0000ff"/><circle cx="516.83" cy="173.13" r="5.55" fill="#0000ff"/><circle cx="534.84" cy="182.92" r="5.55" fill="#0000ff"/><circle cx="552.85" cy="193.46" r="5.55" fill="#0000ff"/><circle cx="570.86" cy="207.03" r="5.55" fill="#0000ff"/><circle cx="588.87" cy="216.42" r="5.55" fill="#0000ff"/><circle cx="606.88" cy="229.99" r="5.55" fill="#0000ff"/><circle cx="624.89" cy="241.39" r="5.55" fill="#0000ff"/><circle cx="642.90" cy="254.05" r="5.55" fill="#0000ff"/><circle cx="660.91" cy="268.19" r="5.55" fill="#0000ff"/><circle cx="678.92" cy="284.51" r="5.55" fill="#0000ff"/><circle cx="696.93" cy="300.83" r="5.55" fill="#0000ff"/><circle cx="714.94" cy="317.10" r="5.55" fill="#0000ff"/><circle cx="732.95" cy="332.56" r="5.55" fill="#0000ff"/><circle cx="750.96" cy="349.62" r="5.55" fill="#0000ff"/><circle cx="768.97" cy="370.41" r="5.55" fill="#0000ff"/><circle cx="786.98" cy="389.94" r="5.55" fill="#0000ff"/><circle cx="804.99" cy="408.55" r="5.55" fill="#0000ff"/><circle cx="823.00" cy="431.57" r="5.55" fill="#0000ff"/>
<path d="M102.60,65.47 L106.20,65.47 L109.80,65.50 L113.41,65.54 L117.01,65.59 L120.61,65.66 L124.21,65.75 L127.81,65.85 L131.42,65.96 L135.02,66.10 L138.62,66.24 L142.22,66.41 L145.82,66.59 L149.43,66.78 L153.03,66.99 L156.63,67.22 L160.23,67.46 L163.83,67.71 L167.44,67.99 L171.04,68.27 L174.64,68.58 L178.24,68.89 L181.84,69.23 L185.45,69.58 L189.05,69.94 L192.65,70.33 L196.25,70.72 L199.85,71.13 L203.46,71.56 L207.06,72.00 L210.66,72.46 L214.26,72.94 L217.86,73.43 L221.47,73.93 L225.07,74.45 L228.67,74.99 L232.27,75.54 L235.87,76.11 L239.48,76.69 L243.08,77.29 L246.68,77.90 L250.28,78.53 L253.88,79.18 L257.49,79.84 L261.09,80.52 L264.69,81.21 L268.29,81.92 L271.89,82.64 L275.50,83.38 L279.10,84.13 L282.70,84.90 L286.30,85.69 L289.90,86.49 L293.51,87.30 L297.11,88.14 L300.71,88.98 L304.31,89.85 L307.91,90.72 L311.52,91.62 L315.12,92.53 L318.72,93.45 L322.32,94.39 L325.92,95.35 L329.53,96.32 L333.13,97.31 L336.73,98.31 L340.33,99.33 L343.93,100.36 L347.54,101.41 L351.14,102.48 L354.74,103.56 L358.34,104.66 L361.94,105.77 L365.55,106.89 L369.15,108.04 L372.75,109.20 L376.35,110.37 L379.95,111.56 L383.56,112.76 L387.16,113.98 L390.76,115.22 L394.36,116.47 L397.96,117.74 L401.57,119.02 L405.17,120.32 L408.77,121.63 L412.37,122.96 L415.97,124.31 L419.58,125.67 L423.18,127.04 L426.78,128.44 L430.38,129.84 L433.98,131.27 L437.59,132.70 L441.19,134.16 L444.79,135.63 L448.39,137.11 L451.99,138.61 L455.60,140.13 L459.20,141.66 L462.80,143.21 L466.40,144.77 L470.00,146.35 L473.61,147.94 L477.21,149.55 L480.81,151.17 L484.41,152.81 L488.01,154.47 L491.62,156.14 L495.22,157.83 L498.82,159.53 L502.42,161.25 L506.02,162.98 L509.63,164.73 L513.23,166.50 L516.83,168.28 L520.43,170.07 L524.03,171.88 L527.64,173.71 L531.24,175.55 L534.84,177.41 L538.44,179.29 L542.04,181.17 L545.65,183.08 L549.25,185.00 L552.85,186.93 L556.45,188.89 L560.05,190.85 L563.66,192.84 L567.26,194.83 L570.86,196.85 L574.46,198.88 L578.06,200.92 L581.67,202.98 L585.27,205.06 L588.87,207.15 L592.47,209.25 L596.07,211.38 L599.68,213.51 L603.28,215.67 L606.88,217.84 L610.48,220.02 L614.08,222.22 L617.69,224.44 L621.29,226.67 L624.89,228.91 L628.49,231.18 L632.09,233.45 L635.70,235.75 L639.30,238.06 L642.90,240.38 L646.50,242.72 L650.10,245.08 L653.71,247.45 L657.31,249.83 L660.91,252.24 L664.51,254.65 L668.11,257.09 L671.72,259.54 L675.32,262.00 L678.92,264.48 L682.52,266.98 L686.12,269.49 L689.73,272.01 L693.33,274.55 L696.93,277.11 L700.53,279.69 L704.13,282.27 L707.74,284.88 L711.34,287.50 L714.94,290.13 L718.54,292.78 L722.14,295.45 L725.75,298.13 L729.35,300.83 L732.95,303.54 L736.55,306.27 L740.15,309.02 L743.76,311.78 L747.36,314.55 L750.96,317.34 L754.56,320.15 L758.16,322.97 L761.77,325.81 L765.37,328.66 L768.97,331.53 L772.57,334.41 L776.17,337.31 L779.78,340.23 L783.38,343.16 L786.98,346.11 L790.58,349.07 L794.18,352.05 L797.79,355.04 L801.39,358.05 L804.99,361.07 L808.59,364.11 L812.19,367.17 L815.80,370.24 L819.40,373.32 L823.00,376.42" fill="none" stroke="#0000ff" stroke-width="1.45" stroke-dasharray="11.8 12.20" stroke-dashoffset="13.20"/>
<path d="M821.6,376.1 L823.0,377.3" stroke="#0000ff" stroke-width="1.45" fill="none"/>
<rect x="97.05" y="59.92" width="11.10" height="11.10" fill="#0000ff"/><rect x="115.06" y="60.11" width="11.10" height="11.10" fill="#0000ff"/><rect x="133.07" y="60.68" width="11.10" height="11.10" fill="#0000ff"/><rect x="151.08" y="61.62" width="11.10" height="11.10" fill="#0000ff"/><rect x="169.09" y="62.95" width="11.10" height="11.10" fill="#0000ff"/><rect x="187.10" y="64.66" width="11.10" height="11.10" fill="#0000ff"/><rect x="205.11" y="66.75" width="11.10" height="11.10" fill="#0000ff"/><rect x="223.12" y="69.21" width="11.10" height="11.10" fill="#0000ff"/><rect x="241.13" y="72.11" width="11.10" height="11.10" fill="#0000ff"/><rect x="259.14" y="74.81" width="11.10" height="11.10" fill="#0000ff"/><rect x="277.15" y="79.16" width="11.10" height="11.10" fill="#0000ff"/><rect x="295.16" y="81.51" width="11.10" height="11.10" fill="#0000ff"/><rect x="313.17" y="86.60" width="11.10" height="11.10" fill="#0000ff"/><rect x="331.18" y="91.13" width="11.10" height="11.10" fill="#0000ff"/><rect x="349.19" y="96.57" width="11.10" height="11.10" fill="#0000ff"/><rect x="367.20" y="102.29" width="11.10" height="11.10" fill="#0000ff"/><rect x="385.21" y="107.56" width="11.10" height="11.10" fill="#0000ff"/><rect x="403.22" y="112.60" width="11.10" height="11.10" fill="#0000ff"/><rect x="421.23" y="118.73" width="11.10" height="11.10" fill="#0000ff"/><rect x="439.24" y="127.49" width="11.10" height="11.10" fill="#0000ff"/><rect x="457.25" y="132.87" width="11.10" height="11.10" fill="#0000ff"/><rect x="475.26" y="139.75" width="11.10" height="11.10" fill="#0000ff"/><rect x="493.27" y="146.39" width="11.10" height="11.10" fill="#0000ff"/><rect x="511.28" y="157.84" width="11.10" height="11.10" fill="#0000ff"/><rect x="529.29" y="163.28" width="11.10" height="11.10" fill="#0000ff"/><rect x="547.30" y="174.45" width="11.10" height="11.10" fill="#0000ff"/><rect x="565.31" y="185.90" width="11.10" height="11.10" fill="#0000ff"/><rect x="583.32" y="193.18" width="11.10" height="11.10" fill="#0000ff"/><rect x="601.33" y="203.48" width="11.10" height="11.10" fill="#0000ff"/><rect x="619.34" y="217.40" width="11.10" height="11.10" fill="#0000ff"/><rect x="637.35" y="228.11" width="11.10" height="11.10" fill="#0000ff"/><rect x="655.36" y="238.93" width="11.10" height="11.10" fill="#0000ff"/><rect x="673.37" y="252.73" width="11.10" height="11.10" fill="#0000ff"/><rect x="691.38" y="271.23" width="11.10" height="11.10" fill="#0000ff"/><rect x="709.39" y="284.75" width="11.10" height="11.10" fill="#0000ff"/><rect x="727.40" y="302.50" width="11.10" height="11.10" fill="#0000ff"/><rect x="745.41" y="321.00" width="11.10" height="11.10" fill="#0000ff"/><rect x="763.42" y="335.54" width="11.10" height="11.10" fill="#0000ff"/><rect x="781.43" y="354.15" width="11.10" height="11.10" fill="#0000ff"/><rect x="799.44" y="372.99" width="11.10" height="11.10" fill="#0000ff"/>
</g>
<rect x="102.6" y="8.2" width="720.40" height="515.40" fill="none" stroke="#000" stroke-width="1.5"/>
</svg></body></html>
